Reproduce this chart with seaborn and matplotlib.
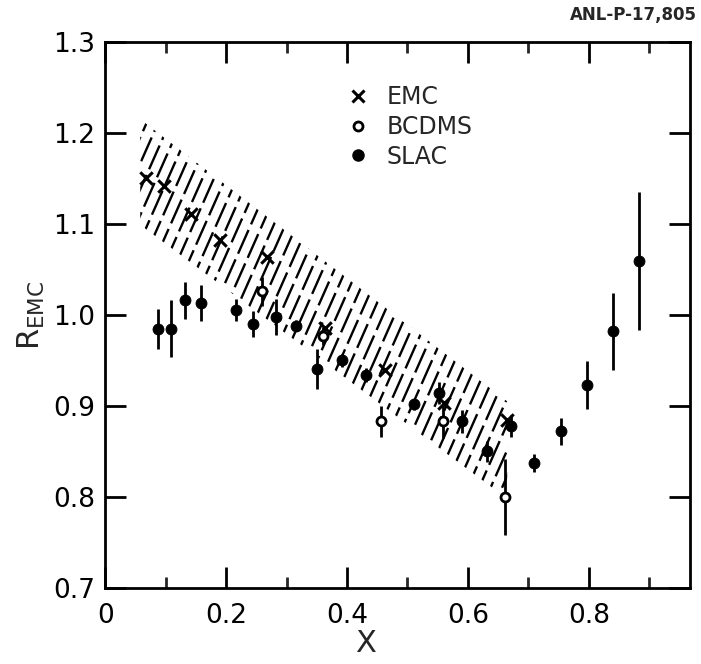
import numpy as np
import pandas as pd
import matplotlib
matplotlib.use("Agg")
import matplotlib.pyplot as plt
import seaborn as sns
from matplotlib.lines import Line2D
from matplotlib.collections import LineCollection

# ---------------- data ----------------
emc_x = [0.068, 0.098, 0.142, 0.190, 0.268, 0.364, 0.463, 0.560, 0.664]
emc_y = [1.150, 1.142, 1.111, 1.082, 1.064, 0.986, 0.939, 0.903, 0.884]

bcdms_x = [0.259, 0.361, 0.457, 0.558, 0.661]
bcdms_y = [1.026, 0.977, 0.883, 0.883, 0.800]
bcdms_err = [0.016, 0.010, 0.017, 0.018, 0.042]

slac_x = [0.088, 0.109, 0.132, 0.158, 0.216, 0.245, 0.283, 0.316, 0.350, 0.392,
          0.432, 0.511, 0.553, 0.591, 0.631, 0.671, 0.710, 0.754, 0.797, 0.840, 0.883]
slac_y = [0.984, 0.985, 1.016, 1.013, 1.005, 0.990, 0.998, 0.988, 0.941, 0.950,
          0.934, 0.902, 0.914, 0.883, 0.850, 0.878, 0.837, 0.872, 0.923, 0.982, 1.059]
slac_err = [0.022, 0.031, 0.020, 0.020, 0.012, 0.014, 0.020, 0.006, 0.022, 0.007,
            0.008, 0.006, 0.012, 0.013, 0.012, 0.012, 0.010, 0.015, 0.026, 0.042, 0.076]

band_x = [0.058, 0.665]
band_hi = [1.215, 0.905]
band_lo = [1.099, 0.798]

x_ticks = [0, 0.2, 0.4, 0.6, 0.8]
x_ticklabels = ["0", "0.2", "0.4", "0.6", "0.8"]
x_minor = [0.1, 0.3, 0.5, 0.7, 0.9]
y_ticks = [0.7, 0.8, 0.9, 1.0, 1.1, 1.2, 1.3]
y_ticklabels = ["0.7", "0.8", "0.9", "1.0", "1.1", "1.2", "1.3"]

# ---------------- style ----------------
sns.set_style("ticks")
plt.rcParams["font.family"] = ["DejaVu Sans"]

fig = plt.figure(figsize=(7.01, 6.64), dpi=100)
ax = fig.add_axes([0.150, 0.1145, 0.834, 0.8225])
ax.set_xlim(0, 0.967)
ax.set_ylim(0.7, 1.3)

# hatched band (steep hand-drawn-like hatching clipped to the band polygon)
poly = ax.fill_between(band_x, band_lo, band_hi, facecolor="none",
                       edgecolor="none", linewidth=0)
slope = 1.5
segs, styles = [], []
for i, x0 in enumerate(np.arange(-0.3, 1.0, 0.019)):
    segs.append([(x0 - 0.4, 1.0 - 0.4 * slope), (x0 + 0.4, 1.0 + 0.4 * slope)])
    styles.append(((i * 5.3) % 17, (11, 2.6)))
lc = LineCollection(segs, colors="black", linewidths=1.7, linestyles=styles)
ax.add_collection(lc)
lc.set_clip_path(poly.get_paths()[0], ax.transData)

# error bars
ax.errorbar(slac_x, slac_y, yerr=slac_err, fmt="none", ecolor="black",
            elinewidth=2, capsize=0, zorder=3)
ax.errorbar(bcdms_x, bcdms_y, yerr=bcdms_err, fmt="none", ecolor="black",
            elinewidth=2, capsize=0, zorder=3)

# points
sns.scatterplot(x=emc_x, y=emc_y, marker="x", s=80, color="black",
                linewidth=2.2, ax=ax, zorder=4)
sns.scatterplot(x=slac_x, y=slac_y, marker="o", s=62, color="black",
                edgecolor="black", ax=ax, zorder=4)
sns.scatterplot(x=bcdms_x, y=bcdms_y, marker="o", s=42, facecolor="white",
                edgecolor="black", linewidth=2, ax=ax, zorder=5)

# legend
handles = [
    Line2D([], [], marker="x", color="black", linestyle="none", markersize=8, mew=2.2),
    Line2D([], [], marker="o", markerfacecolor="white", markeredgecolor="black",
           linestyle="none", markersize=6.5, mew=2),
    Line2D([], [], marker="o", color="black", linestyle="none", markersize=8),
]
ax.legend(handles, ["EMC", "BCDMS", "SLAC"], loc="upper left",
          bbox_to_anchor=(0.38, 0.96), frameon=False, fontsize=17,
          handlelength=0.8, handletextpad=0.8, labelspacing=0.25)

# ticks
ax.set_xticks(x_ticks)
ax.set_xticklabels(x_ticklabels)
ax.set_xticks(x_minor, minor=True)
ax.set_yticks(y_ticks)
ax.set_yticklabels(y_ticklabels)
ax.tick_params(which="major", direction="in", length=15, width=2,
               top=True, right=True, labelsize=19, colors="black")
ax.tick_params(axis="x", which="major", pad=11)
ax.tick_params(axis="y", which="major", pad=7)
ax.tick_params(which="minor", direction="in", length=8, width=2,
               top=True, right=True)
for s in ax.spines.values():
    s.set_linewidth(2)
    s.set_color("black")

ax.set_xlabel("X", fontsize=22)
ax.xaxis.set_label_coords(0.445, -0.075)
ax.set_ylabel(r"R$_{\mathregular{EMC}}$", fontsize=22)
ax.yaxis.set_label_coords(-0.10, 0.5)

fig.text(0.994, 0.978, "ANL-P-17,805", ha="right", va="center",
         fontsize=12, fontweight="bold")

fig.savefig("out.png", dpi=100)
